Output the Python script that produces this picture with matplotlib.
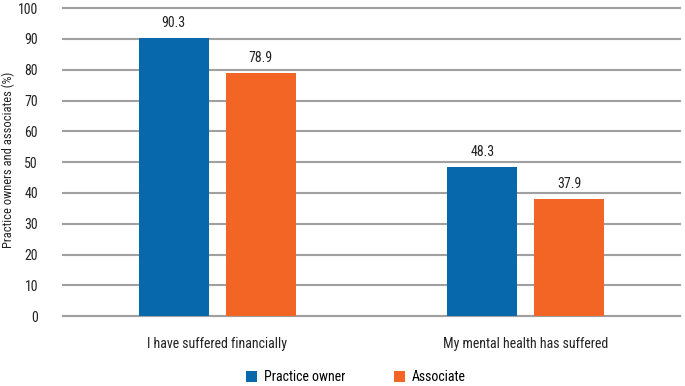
import matplotlib
matplotlib.use("Agg")
import matplotlib.pyplot as plt
import numpy as np

categories = ["I have suffered financially", "My mental health has suffered"]
series_names = ["Practice owner", "Associate"]
owner_values = [90.3, 48.3]
associate_values = [78.9, 37.9]
yticks = [0, 10, 20, 30, 40, 50, 60, 70, 80, 90, 100]

plt.rcParams['font.family'] = ['Roboto Condensed', 'DejaVu Sans']

colors = ["#0868AC", "#F26524"]
tc = "#222222"
fsz = 10

fig = plt.figure(figsize=(6.85, 3.86), dpi=100)
ax = fig.add_axes([0.092, 0.181, 0.901, 0.798])

x = np.arange(len(categories))
w = 0.227
off = 0.141
b1 = ax.bar(x - off, owner_values, w, color=colors[0], label=series_names[0], zorder=3)
b2 = ax.bar(x + off, associate_values, w, color=colors[1], label=series_names[1], zorder=3)
for bars, vals in ((b1, owner_values), (b2, associate_values)):
    for r, v in zip(bars, vals):
        ax.text(r.get_x() + r.get_width() / 2, v + 2.6, f"{v:.1f}", ha="center", va="bottom",
                fontsize=fsz, color=tc)

ax.set_xlim(-0.5, 1.5)
ax.set_ylim(0, 100)
ax.set_yticks(yticks)
ax.set_yticklabels([str(t) for t in yticks], fontsize=fsz, color=tc)
ax.set_xticks(x)
ax.set_xticklabels(categories, fontsize=fsz, color=tc)
ax.tick_params(axis="x", length=0, pad=15)
ax.tick_params(axis="y", length=0, pad=18)
ax.grid(axis="y", color="#A0A0A0", linewidth=1.5, zorder=0)
for gl in ax.get_ygridlines():
    gl.set_clip_on(False)
for s in ["top", "right", "left"]:
    ax.spines[s].set_visible(False)
ax.spines["bottom"].set_color("#A0A0A0")
ax.spines["bottom"].set_linewidth(1.5)
fig.text(8 / 685, 1 - 160 / 386, "Practice owners and associates (%)", rotation=90,
         ha="center", va="center", fontsize=9, color=tc)

fig.legend(handles=[b1, b2], labels=series_names, loc="center", ncol=2, frameon=False,
           bbox_to_anchor=(0.519, 1 - 377 / 386), prop={'size': fsz},
           handlelength=0.85, handleheight=0.85, columnspacing=3.5, handletextpad=0.45)

fig.savefig("out.png", dpi=100)
